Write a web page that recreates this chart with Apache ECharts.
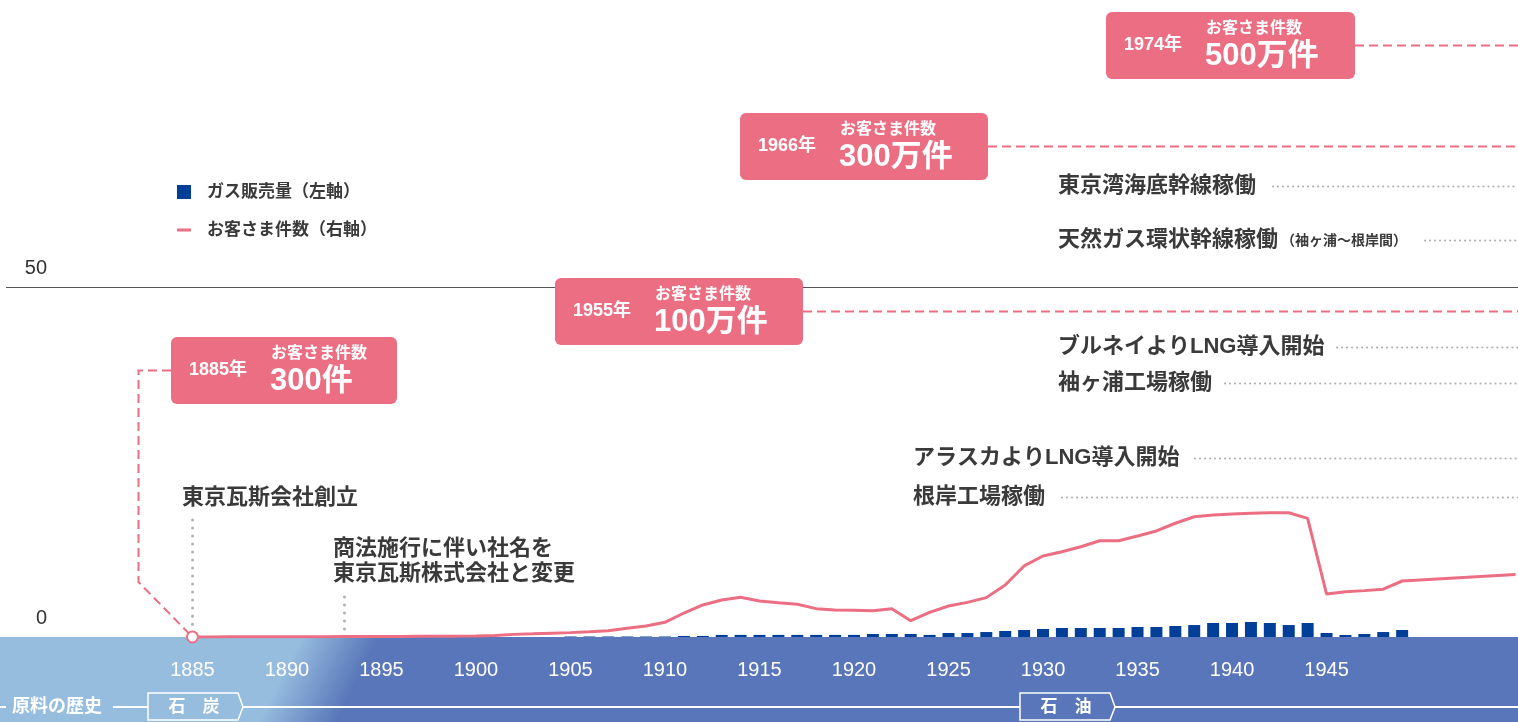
<!DOCTYPE html>
<html lang="ja">
<head>
<meta charset="utf-8">
<title>ガス販売量とお客さま件数の推移</title>
<script src="https://cdn.jsdelivr.net/npm/echarts@6/dist/echarts.min.js"></script>
<style>
  html, body { margin: 0; padding: 0; background: #fff; }
  #chart { width: 1518px; height: 722px; }
</style>
</head>
<body>
<div id="chart"></div>
<script>
const FONT = "'Liberation Sans', 'Noto Sans CJK JP', sans-serif";
const PINK = '#EB6E83';
const BLUE = '#003F98';
const TEXT = '#3a3a3a';
const DOT = '#b0b0b0';

// 年（横軸）
const years = [];
for (let y = 1885; y <= 1955; y++) years.push(String(y));
const yearLabels = ['1885', '1890', '1895', '1900', '1905', '1910', '1915', '1920', '1925', '1930', '1935', '1940', '1945'];

// ガス販売量（左軸）1885〜1955
const gasSales = [
  0, 0, 0, 0, 0, 0, 0, 0, 0, 0,                 // 1885-1894
  0, 0, 0, 0, 0, 0, 0, 0, 0, 0,                 // 1895-1904
  0.07, 0.07, 0.07, 0.07, 0.07, 0.07,           // 1905-1910
  0.15, 0.15,                                   // 1911-1912
  0.3, 0.3, 0.3, 0.3, 0.3, 0.3, 0.3, 0.3,       // 1913-1920
  0.43, 0.43, 0.43, 0.3,                        // 1921-1924
  0.57, 0.57, 0.71, 0.86, 1.0,                  // 1925-1929
  1.14, 1.29, 1.29, 1.29, 1.29,                 // 1930-1934
  1.43, 1.43, 1.57, 1.71, 2.0,                  // 1935-1939
  2.0, 2.14, 2.0, 1.71, 2.0,                    // 1940-1944
  0.57, 0.29, 0.43, 0.71, 1.0,                  // 1945-1949
  null, null, null, null, null, null            // 1950-1955
];

// お客さま件数（右軸、万件）1885〜1955
const customers = [
  0.03, 0.05, 0.08, 0.1, 0.12, 0.15, 0.18, 0.2,  // 1885-1892
  0.22, 0.25, 0.3, 0.35, 0.4, 0.45, 0.5, 0.6,    // 1893-1900
  0.9, 1.5, 1.8, 2.2, 2.5, 3.0, 3.6, 5.0, 6.3,   // 1901-1909
  8.4, 13.7, 18.3, 21.1, 22.7,                   // 1910-1914
  20.6, 19.6, 18.7, 16.2, 15.4,                  // 1915-1919
  15.3, 15.0, 16.2, 9.3, 14.1,                   // 1920-1924
  17.7, 19.8, 22.5, 29.7, 40.6,                  // 1925-1929
  46.3, 48.7, 51.6, 55.0, 55.0,                  // 1930-1934
  57.7, 60.6, 65.0, 68.7, 69.7,                  // 1935-1939
  70.3, 70.7, 71.0, 71.0, 67.8,                  // 1940-1944
  24.6, 25.9, 26.5, 27.3, 32.0,                  // 1945-1949
  null, null, null, null, null, 35.7             // 1950-1955
];

// 注記テキスト
const milestoneYears = ['1885年', '1955年', '1966年', '1974年'];
const milestoneCounts = ['300件', '100万件', '300万件', '500万件'];
const eventTexts = [
  '東京瓦斯会社創立',
  '商法施行に伴い社名を\n東京瓦斯株式会社と変更',
  'アラスカよりLNG導入開始',
  '根岸工場稼働',
  'ブルネイよりLNG導入開始',
  '袖ヶ浦工場稼働',
  '東京湾海底幹線稼働',
  '天然ガス環状幹線稼働'
];

const chart = echarts.init(document.getElementById('chart'));

const option = {
  animation: false,
  backgroundColor: '#fff',
  textStyle: { fontFamily: FONT },
  legend: {
    orient: 'vertical',
    left: 177,
    top: 182,
    padding: 0,
    itemWidth: 14,
    itemHeight: 14,
    itemGap: 18,
    selectedMode: false,
    textStyle: { fontSize: 17, fontWeight: 'bold', color: TEXT, fontFamily: FONT, lineHeight: 20, padding: [0, 0, 0, 11] },
    data: [
      { name: 'ガス販売量（左軸）', icon: 'rect', itemStyle: { color: BLUE } },
      { name: 'お客さま件数（右軸）', icon: 'path://M0,0H16V3.4H0Z', itemStyle: { color: PINK, borderWidth: 0 } }
    ]
  },
  grid: { left: 183, right: -7, top: 287, bottom: 85, outerBoundsMode: 'none' },
  xAxis: {
    type: 'category',
    data: years,
    boundaryGap: true,
    axisLine: { show: false },
    axisTick: { show: false },
    axisLabel: {
      interval: (i, v) => yearLabels.indexOf(v) >= 0,
      color: '#fff',
      fontSize: 20,
      fontFamily: "'Liberation Sans', sans-serif",
      margin: 23
    }
  },
  yAxis: [
    {
      type: 'value', min: 0, max: 50, interval: 50,
      splitLine: { show: false },
      axisLine: { show: false },
      axisTick: { show: false },
      axisLabel: {
        color: '#333', fontSize: 20, fontFamily: "'Liberation Sans', sans-serif",
        margin: 136, verticalAlign: 'bottom', padding: [0, 0, 9, 0]
      }
    },
    { type: 'value', min: 0, max: 200, show: false, splitLine: { show: false } }
  ],
  series: [
    {
      name: 'ガス販売量（左軸）',
      type: 'bar',
      yAxisIndex: 0,
      data: gasSales,
      barWidth: 12,
      itemStyle: { color: BLUE }
    },
    {
      name: 'お客さま件数（右軸）',
      type: 'line',
      yAxisIndex: 1,
      data: customers,
      connectNulls: true,
      symbol: 'circle',
      symbolSize: (v, p) => (p.dataIndex === 0 ? 11 : 0),
      showSymbol: true,
      showAllSymbol: true,
      lineStyle: { color: PINK, width: 3 },
      itemStyle: { color: '#fff', borderColor: PINK, borderWidth: 2 },
      z: 4
    }
  ]
};

chart.setOption(option);

// 軸から位置を取得して注記を配置
const zeroY = Math.round(chart.convertToPixel({ yAxisIndex: 0 }, 0));
const y50 = Math.round(chart.convertToPixel({ yAxisIndex: 0 }, 50)) + 0.5;
const p1885 = chart.convertToPixel({ seriesIndex: 1 }, [years[0], customers[0]]);
const x1893 = Math.round(chart.convertToPixel({ xAxisIndex: 0 }, '1893')) + 0.5;
const x1885 = Math.round(p1885[0]) + 0.5;

const font = (size, weight) => `${weight || 'bold'} ${size}px ${FONT}`;
const text = (x, y, str, size, color, extra) => ({
  type: 'text', x, y, z: 10,
  style: Object.assign({
    text: str, fill: color, font: font(size),
    textAlign: 'left', textVerticalAlign: 'middle', align: 'left', verticalAlign: 'middle'
  }, extra || {})
});
const line = (x1, y1, x2, y2, stroke, width, dash, cap) => ({
  type: 'line', z: 5,
  shape: { x1, y1, x2, y2 },
  style: { stroke, lineWidth: width, lineDash: dash || null, lineCap: cap || 'butt' }
});
const dotted = (x1, y1, x2, y2, gap, w) => line(x1, y1, x2, y2, DOT, w, [0.01, gap], 'round');

const g = [];

// 下部の帯
g.push({
  type: 'rect', z: -1,
  shape: { x: 0, y: zeroY, width: 1518, height: 722 - zeroY },
  style: {
    fill: {
      type: 'linear', global: true, x: 280, y: 680, x2: 342, y2: 711,
      colorStops: [{ offset: 0, color: '#96BCDE' }, { offset: 1, color: '#5876B9' }]
    }
  }
});

// 50 の目盛り線
g.push(line(6, y50, 1518, y50, '#555', 1));

// 原料の歴史
const rowY = 707;
g.push(line(0, rowY, 6, rowY, '#fff', 2));
g.push(text(12, rowY, '原料の歴史', 18, '#fff'));
g.push(line(113, rowY, 148, rowY, '#fff', 2));
g.push(line(243, rowY, 1020, rowY, '#fff', 2));
g.push(line(1115, rowY, 1518, rowY, '#fff', 2));
[[148, '石　炭'], [1020, '石　油']].forEach(([bx, label]) => {
  g.push({
    type: 'polygon', z: 5,
    shape: { points: [[bx, 693], [bx + 90, 693], [bx + 95, rowY], [bx + 90, 720], [bx, 720]] },
    style: { fill: null, stroke: '#fff', lineWidth: 1.5 }
  });
  g.push(text(bx + 46, rowY, label, 17, '#fff', { textAlign: 'center', align: 'center' }));
});

// 出来事
g.push(dotted(x1885, 520, x1885, 632, 8, 3));
g.push(text(182, 498, eventTexts[0], 22, TEXT));
g.push(dotted(x1893, 597, x1893, 632, 8, 3));
g.push(text(333, 561.5, eventTexts[1], 22, TEXT, { lineHeight: 25 }));

const eventRows = [
  [913, 458, 1195], [913, 497, 1062],
  [1058, 347, 1337], [1058, 383, 1225],
  [1058, 186, 1273], [1058, 240, 1425]
];
eventRows.forEach(([tx, ty, dx], i) => {
  g.push(text(tx, ty, eventTexts[i + 2], 22, TEXT));
  g.push(dotted(dx, ty + 0.5, 1518, ty + 0.5, 5, 2.2));
});
g.push(text(1281, 241, '（袖ヶ浦～根岸間）', 14, TEXT));

// お客さま件数の節目
const boxLayout = [[171, 337, 226], [555, 278, 248], [740, 113, 248], [1106, 12, 249]];
boxLayout.forEach(([bx, by, bw], i) => {
  g.push({
    type: 'rect', z: 8,
    shape: { x: bx, y: by, width: bw, height: 67, r: 6 },
    style: { fill: PINK }
  });
  g.push(text(bx + 18, by + 33, milestoneYears[i], 18, '#fff'));
  g.push(text(bx + 100, by + 17, 'お客さま件数', 16, '#fff'));
  g.push(text(bx + 99, by + 44, milestoneCounts[i], 31, '#fff'));
  if (i > 0) {
    const ly = by + 33.5;
    g.push(line(bx + bw, ly, 1518, ly, PINK, 2, [9, 5]));
  }
});
g.push({
  type: 'polyline', z: 5,
  shape: { points: [[171, 370.5], [138.5, 370.5], [138.5, 582], [p1885[0] - 4, p1885[1] - 4]] },
  style: { stroke: PINK, lineWidth: 2, lineDash: [9, 5], fill: null }
});

chart.setOption({ graphic: { elements: g } });
</script>
</body>
</html>
